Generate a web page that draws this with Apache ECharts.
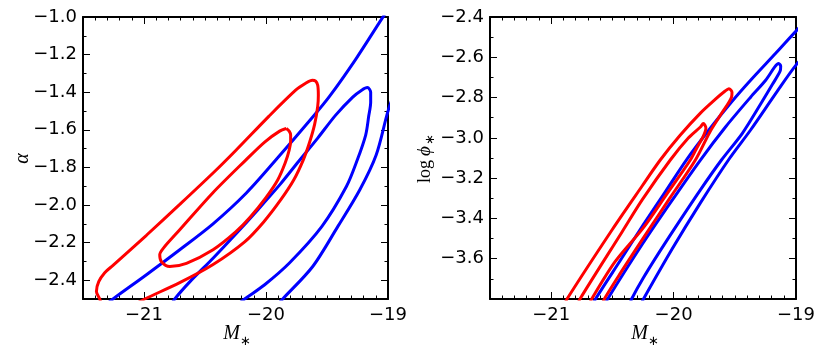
<!DOCTYPE html>
<html>
<head>
<meta charset="utf-8">
<script src="https://cdn.jsdelivr.net/npm/echarts@6/dist/echarts.min.js"></script>
<style>
  html, body { margin: 0; padding: 0; background: #fff; }
  #chart { width: 830px; height: 353px; }
</style>
</head>
<body>
<div id="chart"></div>
<script>
// tick values
const magTicks = [-21, -20, -19];
const alphaTicks = [-2.4, -2.2, -2.0, -1.8, -1.6, -1.4, -1.2, -1.0];
const phiTicks = [-3.6, -3.4, -3.2, -3.0, -2.8, -2.6, -2.4];

// left panel: contours in (M*, alpha)
const alphaRedOuter = [[-21.35,-2.53],[-21.363,-2.50],[-21.39,-2.46],[-21.371,-2.408],[-21.322,-2.360],[-21.254,-2.321],
  [-20.980,-2.161],[-20.707,-1.997],[-20.434,-1.830],[-20.248,-1.710],[-19.975,-1.527],[-19.757,-1.389],[-19.675,-1.352],
  [-19.620,-1.336],[-19.593,-1.341],[-19.576,-1.363],[-19.571,-1.416],[-19.576,-1.474],[-19.601,-1.570],[-19.642,-1.665],
  [-19.695,-1.761],[-19.773,-1.867],[-19.880,-1.973],[-20.019,-2.090],[-20.175,-2.196],[-20.437,-2.318],[-20.707,-2.413],
  [-20.994,-2.500],[-21.08,-2.53]];
const alphaRedInner = [[-19.834,-1.593],[-19.810,-1.607],[-19.798,-1.628],[-19.798,-1.660],[-19.810,-1.708],[-19.843,-1.777],
  [-19.904,-1.867],[-20.002,-1.962],[-20.134,-2.068],[-20.248,-2.143],[-20.434,-2.238],[-20.652,-2.310],[-20.789,-2.327],
  [-20.857,-2.302],[-20.871,-2.265],[-20.839,-2.228],[-20.707,-2.132],[-20.437,-1.936],[-20.166,-1.761],[-20.011,-1.665],
  [-19.888,-1.607],[-19.834,-1.593]];
const alphaBlueOuter = [[-21.322,-2.536],[-21.254,-2.500],[-20.980,-2.371],[-20.707,-2.238],[-20.434,-2.100],[-20.161,-1.936],
  [-19.920,-1.761],[-19.617,-1.532],[-19.478,-1.421],[-19.265,-1.225],[-19.043,-1.002],[-18.970,-0.933],[-18.740,-1.230],
  [-18.953,-1.421],[-19.000,-1.501],[-19.097,-1.734],[-19.232,-1.920],[-19.412,-2.115],[-19.617,-2.327],[-19.863,-2.500],
  [-19.920,-2.541]];
const alphaBlueInner = [[-20.781,-2.536],[-20.748,-2.500],[-20.625,-2.409],[-20.434,-2.283],[-20.257,-2.161],[-20.068,-2.026],
  [-19.888,-1.893],[-19.730,-1.766],[-19.576,-1.644],[-19.429,-1.522],[-19.289,-1.426],[-19.216,-1.389],[-19.169,-1.375],
  [-19.142,-1.400],[-19.142,-1.453],[-19.158,-1.527],[-19.183,-1.628],[-19.252,-1.761],[-19.341,-1.902],[-19.543,-2.115],
  [-19.806,-2.307],[-20.011,-2.424],[-20.175,-2.500],[-20.232,-2.530]];

// right panel: contours in (M*, log phi*)
const phiRedOuter = [[-20.89,-3.83],[-20.871,-3.80],[-20.502,-3.456],[-20.257,-3.239],[-20.109,-3.110],[-19.945,-2.986],
  [-19.781,-2.877],[-19.658,-2.808],[-19.584,-2.770],[-19.548,-2.756],[-19.523,-2.773],[-19.527,-2.798],[-19.601,-2.872],
  [-19.699,-2.966],[-19.822,-3.110],[-20.035,-3.303],[-20.248,-3.498],[-20.437,-3.674],[-20.566,-3.80],[-20.585,-3.83]];
const phiRedInner = [[-20.785,-3.83],[-20.765,-3.80],[-20.420,-3.466],[-20.257,-3.308],[-20.027,-3.110],[-19.880,-3.001],
  [-19.781,-2.946],[-19.757,-2.929],[-19.736,-2.951],[-19.757,-2.991],[-19.806,-3.045],[-19.863,-3.110],[-20.060,-3.283],
  [-20.248,-3.447],[-20.478,-3.615],[-20.669,-3.80],[-20.69,-3.83]];
const phiBlueOuter = [[-20.66,-3.83],[-20.638,-3.80],[-20.437,-3.610],[-20.248,-3.432],[-20.068,-3.268],[-19.896,-3.110],
  [-19.699,-2.951],[-19.527,-2.822],[-19.371,-2.714],[-19.166,-2.580],[-18.986,-2.461],[-18.88,-2.40],[-18.85,-2.50],
  [-18.88,-2.565],[-18.994,-2.634],[-19.158,-2.773],[-19.371,-2.961],[-19.552,-3.110],[-19.781,-3.323],[-20.011,-3.551],
  [-20.246,-3.80],[-20.27,-3.83]];
const phiBlueInner = [[-20.56,-3.83],[-20.539,-3.80],[-20.248,-3.521],[-20.027,-3.323],[-19.781,-3.110],[-19.576,-2.946],
  [-19.371,-2.798],[-19.248,-2.714],[-19.175,-2.649],[-19.142,-2.631],[-19.125,-2.644],[-19.130,-2.669],[-19.191,-2.733],
  [-19.289,-2.832],[-19.437,-2.976],[-19.609,-3.110],[-19.781,-3.258],[-19.945,-3.407],[-20.109,-3.560],[-20.248,-3.696],
  [-20.343,-3.80],[-20.36,-3.83]];

const RED = '#ff0000', BLUE = '#0000ff';
const minus = s => s.replace('-', '\u2212');
const fmtInt = v => minus(v.toFixed(0));
const fmtOne = v => minus(v.toFixed(1));

// matplotlib-like frame: major + minor ticks pointing in, on all four sides
function frameAxes(dim, grid, min, max, majors, fmt) {
  const sides = dim === 'x' ? ['bottom', 'top'] : ['left', 'right'];
  const out = [];
  sides.forEach((pos, k) => {
    out.push({
      type: 'value', gridIndex: grid, position: pos, min: min, max: max,
      splitLine: {show: false},
      axisLine: {show: true, onZero: false, lineStyle: {color: '#000', width: 2}},
      axisTick: {show: true, inside: true, length: 7, customValues: majors, lineStyle: {color: '#000', width: 1}},
      axisLabel: {show: k === 0, customValues: majors, formatter: fmt, color: '#000',
        fontFamily: 'DejaVu Sans', fontSize: 18, margin: dim === 'x' ? 7 : 6}
    });
    out.push({
      type: 'value', gridIndex: grid, position: pos, min: min, max: max, interval: 0.1,
      splitLine: {show: false},
      axisLine: {show: false},
      axisTick: {show: true, inside: true, length: 3.5, lineStyle: {color: '#000', width: 1}},
      axisLabel: {show: false}
    });
  });
  return out;
}

function contour(data, color, xi, yi) {
  return {
    type: 'line', data: data, xAxisIndex: xi, yAxisIndex: yi,
    showSymbol: false, smooth: 0.3, clip: true, silent: true,
    lineStyle: {color: color, width: 3},
    z: color === RED ? 3 : 2
  };
}

function label(x, y, text, font, align) {
  return {type: 'text', x: x, y: y, style: {text: text, font: font, fill: '#000',
    align: align || 'center', verticalAlign: 'middle', textAlign: align || 'center', textVerticalAlign: 'middle'}};
}

const chart = echarts.init(document.getElementById('chart'), null, {renderer: 'canvas'});
chart.setOption({
  animation: false,
  backgroundColor: '#fff',
  grid: [
    {left: 83, top: 17, width: 305, height: 282},
    {left: 490, top: 17, width: 306, height: 282}
  ],
  xAxis: [
    ...frameAxes('x', 0, -21.5, -19, magTicks, fmtInt),
    ...frameAxes('x', 1, -21.5, -19, magTicks, fmtInt)
  ],
  yAxis: [
    ...frameAxes('y', 0, -2.5, -1.0, alphaTicks, fmtOne),
    ...frameAxes('y', 1, -3.8, -2.4, phiTicks, fmtOne)
  ],
  series: [
    contour(alphaBlueOuter, BLUE, 0, 0),
    contour(alphaBlueInner, BLUE, 0, 0),
    contour(alphaRedOuter, RED, 0, 0),
    contour(alphaRedInner, RED, 0, 0),
    contour(phiBlueOuter, BLUE, 4, 4),
    contour(phiBlueInner, BLUE, 4, 4),
    contour(phiRedOuter, RED, 4, 4),
    contour(phiRedInner, RED, 4, 4)
  ],
  graphic: [
    label(231.5, 334, 'M', 'italic 20px "Liberation Serif"'),
    label(245.5, 341.5, '\u2217', '13px "DejaVu Sans"'),
    label(639.5, 334, 'M', 'italic 20px "Liberation Serif"'),
    label(653.5, 341.5, '\u2217', '13px "DejaVu Sans"'),
    Object.assign(label(22.5, 158.5, '\u03b1', 'italic 20px "Liberation Serif"'), {rotation: Math.PI / 2}),
    {type: 'group', x: 425, y: 158, rotation: Math.PI / 2, children: [
      label(-25, 0, 'log', '18px "Liberation Serif"', 'left'),
      label(2, 0, '\u03d5', 'italic 19px "Liberation Serif"', 'left'),
      label(13, 6, '\u2217', '13px "DejaVu Sans"', 'left')
    ]}
  ]
});
</script>
</body>
</html>
